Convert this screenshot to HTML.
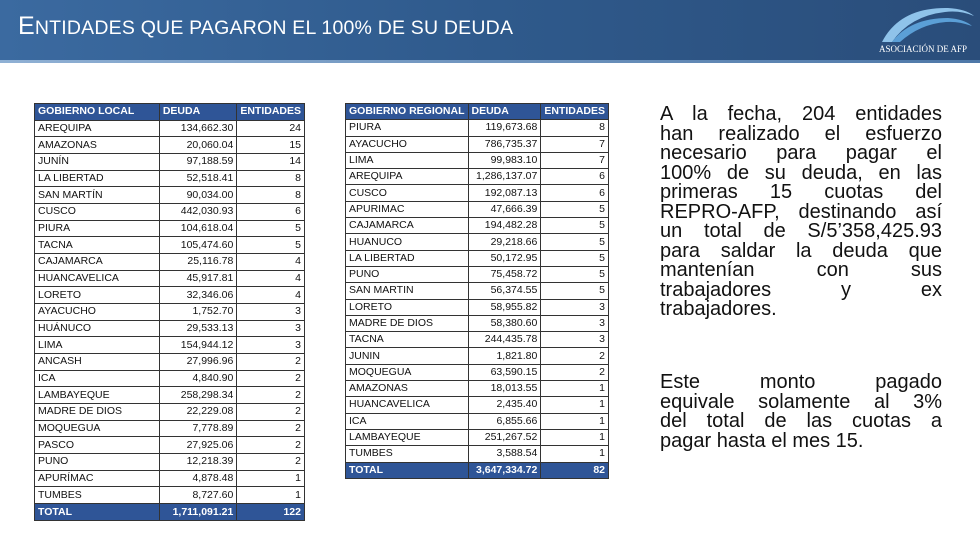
<!DOCTYPE html>
<html><head><meta charset="utf-8"><style>
*{margin:0;padding:0;box-sizing:border-box}
body{width:980px;height:538px;background:#fff;position:relative;overflow:hidden;font-family:"Liberation Sans",sans-serif}
#hdr{position:absolute;left:0;top:0;width:980px;height:60px;background:linear-gradient(90deg,#3b6aa0 0%,#2f5a8c 50%,#2a4d7a 100%)}
#line{position:absolute;left:0;top:60px;width:980px;height:3px;background:linear-gradient(90deg,#8fb0d4,#4e78a8)}
#title{position:absolute;left:18px;top:12px;color:#fff;font-size:19.5px;letter-spacing:0.2px;white-space:nowrap}
#title .b{font-size:25px}
table{position:absolute;border-collapse:collapse;font-size:10.5px;color:#111}
td{border:1px solid #333;padding:0 3px;white-space:nowrap;overflow:hidden;line-height:13px}
td.n{text-align:right}
tr.h td,tr.t td{background:#2f5597;color:#fff;font-weight:bold}
#t1{left:34px;top:103px;width:271px;height:418px}
#t2{left:345px;top:103px;width:264px;height:376px}
.txt{position:absolute;left:660px;width:282px;font-size:20px;color:#111}
.txt div{height:19.5px;line-height:19.5px;text-align:justify;text-align-last:justify;white-space:nowrap}
.txt div.l{text-align-last:left}
</style></head><body>
<div id="hdr"></div><div id="line"></div>
<div id="title"><span class="b">E</span>NTIDADES QUE PAGARON EL 100% DE SU DEUDA</div>
<svg style="position:absolute;left:870px;top:2px" width="105" height="55" viewBox="0 0 105 55">
<path d="M12 40 Q30 5 78 6 Q96 7 104 14 Q90 8 75 10 Q40 14 22 40 Z" fill="#8fc3ea"/>
<path d="M22 40 Q40 16 78 16 Q94 17 102 24 Q88 19 76 20 Q50 22 30 40 Z" fill="#5b9fd6"/>
<text x="9" y="50" font-family="Liberation Serif,serif" font-size="9" fill="#fff">ASOCIACIÓN DE AFP</text>
</svg>
<table id="t1">
<tr class="h"><td style="width:126px">GOBIERNO LOCAL</td><td style="width:78px">DEUDA</td><td>ENTIDADES</td></tr>
<tr><td>AREQUIPA</td><td class="n">134,662.30</td><td class="n">24</td></tr>
<tr><td>AMAZONAS</td><td class="n">20,060.04</td><td class="n">15</td></tr>
<tr><td>JUNÍN</td><td class="n">97,188.59</td><td class="n">14</td></tr>
<tr><td>LA LIBERTAD</td><td class="n">52,518.41</td><td class="n">8</td></tr>
<tr><td>SAN MARTÍN</td><td class="n">90,034.00</td><td class="n">8</td></tr>
<tr><td>CUSCO</td><td class="n">442,030.93</td><td class="n">6</td></tr>
<tr><td>PIURA</td><td class="n">104,618.04</td><td class="n">5</td></tr>
<tr><td>TACNA</td><td class="n">105,474.60</td><td class="n">5</td></tr>
<tr><td>CAJAMARCA</td><td class="n">25,116.78</td><td class="n">4</td></tr>
<tr><td>HUANCAVELICA</td><td class="n">45,917.81</td><td class="n">4</td></tr>
<tr><td>LORETO</td><td class="n">32,346.06</td><td class="n">4</td></tr>
<tr><td>AYACUCHO</td><td class="n">1,752.70</td><td class="n">3</td></tr>
<tr><td>HUÁNUCO</td><td class="n">29,533.13</td><td class="n">3</td></tr>
<tr><td>LIMA</td><td class="n">154,944.12</td><td class="n">3</td></tr>
<tr><td>ANCASH</td><td class="n">27,996.96</td><td class="n">2</td></tr>
<tr><td>ICA</td><td class="n">4,840.90</td><td class="n">2</td></tr>
<tr><td>LAMBAYEQUE</td><td class="n">258,298.34</td><td class="n">2</td></tr>
<tr><td>MADRE DE DIOS</td><td class="n">22,229.08</td><td class="n">2</td></tr>
<tr><td>MOQUEGUA</td><td class="n">7,778.89</td><td class="n">2</td></tr>
<tr><td>PASCO</td><td class="n">27,925.06</td><td class="n">2</td></tr>
<tr><td>PUNO</td><td class="n">12,218.39</td><td class="n">2</td></tr>
<tr><td>APURÍMAC</td><td class="n">4,878.48</td><td class="n">1</td></tr>
<tr><td>TUMBES</td><td class="n">8,727.60</td><td class="n">1</td></tr>
<tr class="t"><td>TOTAL</td><td class="n">1,711,091.21</td><td class="n">122</td></tr>
</table>
<table id="t2">
<tr class="h"><td style="width:122px">GOBIERNO REGIONAL</td><td style="width:76px">DEUDA</td><td>ENTIDADES</td></tr>
<tr><td>PIURA</td><td class="n">119,673.68</td><td class="n">8</td></tr>
<tr><td>AYACUCHO</td><td class="n">786,735.37</td><td class="n">7</td></tr>
<tr><td>LIMA</td><td class="n">99,983.10</td><td class="n">7</td></tr>
<tr><td>AREQUIPA</td><td class="n">1,286,137.07</td><td class="n">6</td></tr>
<tr><td>CUSCO</td><td class="n">192,087.13</td><td class="n">6</td></tr>
<tr><td>APURIMAC</td><td class="n">47,666.39</td><td class="n">5</td></tr>
<tr><td>CAJAMARCA</td><td class="n">194,482.28</td><td class="n">5</td></tr>
<tr><td>HUANUCO</td><td class="n">29,218.66</td><td class="n">5</td></tr>
<tr><td>LA LIBERTAD</td><td class="n">50,172.95</td><td class="n">5</td></tr>
<tr><td>PUNO</td><td class="n">75,458.72</td><td class="n">5</td></tr>
<tr><td>SAN MARTIN</td><td class="n">56,374.55</td><td class="n">5</td></tr>
<tr><td>LORETO</td><td class="n">58,955.82</td><td class="n">3</td></tr>
<tr><td>MADRE DE DIOS</td><td class="n">58,380.60</td><td class="n">3</td></tr>
<tr><td>TACNA</td><td class="n">244,435.78</td><td class="n">3</td></tr>
<tr><td>JUNIN</td><td class="n">1,821.80</td><td class="n">2</td></tr>
<tr><td>MOQUEGUA</td><td class="n">63,590.15</td><td class="n">2</td></tr>
<tr><td>AMAZONAS</td><td class="n">18,013.55</td><td class="n">1</td></tr>
<tr><td>HUANCAVELICA</td><td class="n">2,435.40</td><td class="n">1</td></tr>
<tr><td>ICA</td><td class="n">6,855.66</td><td class="n">1</td></tr>
<tr><td>LAMBAYEQUE</td><td class="n">251,267.52</td><td class="n">1</td></tr>
<tr><td>TUMBES</td><td class="n">3,588.54</td><td class="n">1</td></tr>
<tr class="t"><td>TOTAL</td><td class="n">3,647,334.72</td><td class="n">82</td></tr>
</table>
<div class="txt" style="top:105px">
<div>A la fecha, 204 entidades</div>
<div>han realizado el esfuerzo</div>
<div>necesario para pagar el</div>
<div>100% de su deuda, en las</div>
<div>primeras 15 cuotas del</div>
<div>REPRO-AFP, destinando así</div>
<div>un total de S/5’358,425.93</div>
<div>para saldar la deuda que</div>
<div>mantenían con sus</div>
<div>trabajadores y ex</div>
<div class="l">trabajadores.</div>
</div>
<div class="txt" style="top:373px">
<div>Este monto pagado</div>
<div>equivale solamente al 3%</div>
<div>del total de las cuotas a</div>
<div class="l">pagar hasta el mes 15.</div>
</div>
</body></html>
